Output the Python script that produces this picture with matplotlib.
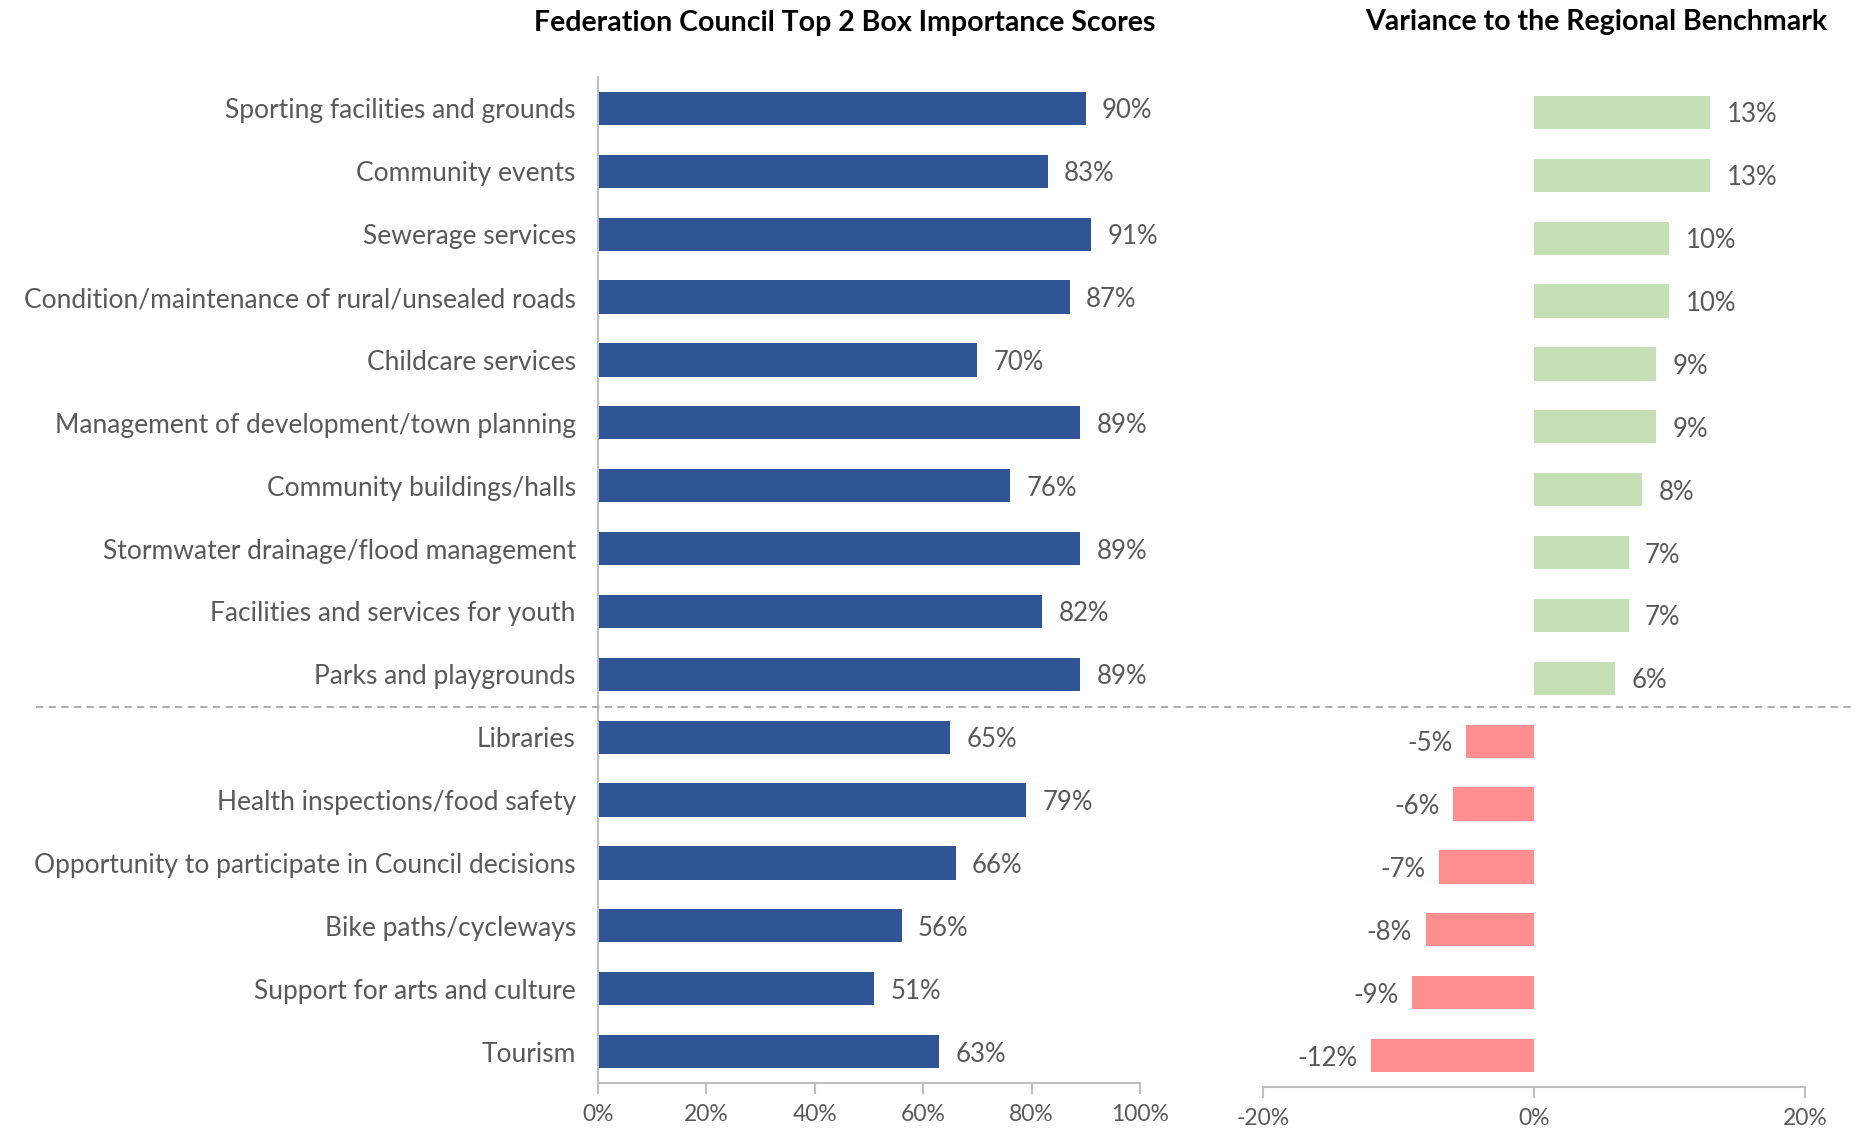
import matplotlib
matplotlib.use("Agg")
import matplotlib.pyplot as plt
from matplotlib.lines import Line2D
import numpy as np

plt.rcParams['font.family'] = ['Lato', 'DejaVu Sans']

categories = [
    "Sporting facilities and grounds",
    "Community events",
    "Sewerage services",
    "Condition/maintenance of rural/unsealed roads",
    "Childcare services",
    "Management of development/town planning",
    "Community buildings/halls",
    "Stormwater drainage/flood management",
    "Facilities and services for youth",
    "Parks and playgrounds",
    "Libraries",
    "Health inspections/food safety",
    "Opportunity to participate in Council decisions",
    "Bike paths/cycleways",
    "Support for arts and culture",
    "Tourism",
]
importance = [90, 83, 91, 87, 70, 89, 76, 89, 82, 89, 65, 79, 66, 56, 51, 63]
variance = [13, 13, 10, 10, 9, 9, 8, 7, 7, 6, -5, -6, -7, -8, -9, -12]
left_ticks = [0, 20, 40, 60, 80, 100]
right_ticks = [-20, 0, 20]

W, H = 1856, 1130
fig = plt.figure(figsize=(W / 100, H / 100), dpi=100)

TXT = '#595959'
AX = '#BFBFBF'
BLUE = '#2F5597'
GREEN = '#C5E0B4'
RED = '#FF8F8F'
FS_CAT = 19
FS_TICK = 16.5
FS_VAL = 18.5

def px(x0, y0, x1, y1):
    return [x0 / W, 1 - y1 / H, (x1 - x0) / W, (y1 - y0) / H]

y = np.arange(len(categories))

ax1 = fig.add_axes(px(598, 77, 1140, 1083))
ax1.barh(y, importance, height=0.53, color=BLUE)
ax1.set_ylim(15.5, -0.5)
ax1.set_xlim(0, 100)
ax1.set_yticks(y)
ax1.set_yticklabels(categories, fontsize=FS_CAT, color=TXT)
ax1.set_xticks(left_ticks)
ax1.set_xticklabels([f"{t}%" for t in left_ticks], fontsize=FS_TICK, color=TXT)
for s in ['top', 'right']:
    ax1.spines[s].set_visible(False)
for s in ['left', 'bottom']:
    ax1.spines[s].set_color(AX)
    ax1.spines[s].set_linewidth(1.5)
ax1.tick_params(axis='y', length=0, pad=16)
ax1.tick_params(axis='x', length=8, color=AX, width=1.5, pad=7)
for yi, v in zip(y, importance):
    ax1.text(v + 3, yi + 0.04, f"{v}%", va='center', ha='left', fontsize=FS_VAL, color=TXT)
ax1.set_title("Federation Council Top 2 Box Importance Scores", fontsize=20.5,
              fontweight='bold', color='black', x=0.455, y=1.0, pad=33)

ax2 = fig.add_axes(px(1263, 81, 1805, 1087))
colors = [GREEN if v >= 0 else RED for v in variance]
ax2.barh(y, variance, height=0.53, color=colors)
ax2.set_ylim(15.5, -0.5)
ax2.set_xlim(-20, 20)
ax2.set_yticks([])
ax2.set_xticks(right_ticks)
ax2.set_xticklabels([f"{t}%" for t in right_ticks], fontsize=FS_TICK, color=TXT)
for s in ['top', 'right', 'left']:
    ax2.spines[s].set_visible(False)
ax2.spines['bottom'].set_color(AX)
ax2.spines['bottom'].set_linewidth(1.5)
ax2.tick_params(axis='x', length=8, color=AX, width=1.5, pad=7)
for yi, v in zip(y, variance):
    if v >= 0:
        ax2.text(v + 1.2, yi + 0.04, f"{v}%", va='center', ha='left', fontsize=FS_VAL, color=TXT)
    else:
        ax2.text(v - 1.0, yi + 0.04, f"{v}%", va='center', ha='right', fontsize=FS_VAL, color=TXT)
ax2.set_title("Variance to the Regional Benchmark", fontsize=20.5,
              fontweight='bold', color='black', x=0.615, y=1.0, pad=37)

fig.add_artist(Line2D([36 / W, 1852 / W], [1 - 707 / H, 1 - 707 / H],
                      color='#A6A6A6', linestyle=(0, (4, 3)), linewidth=1.3))

fig.savefig("out.png", dpi=100, facecolor='white')
